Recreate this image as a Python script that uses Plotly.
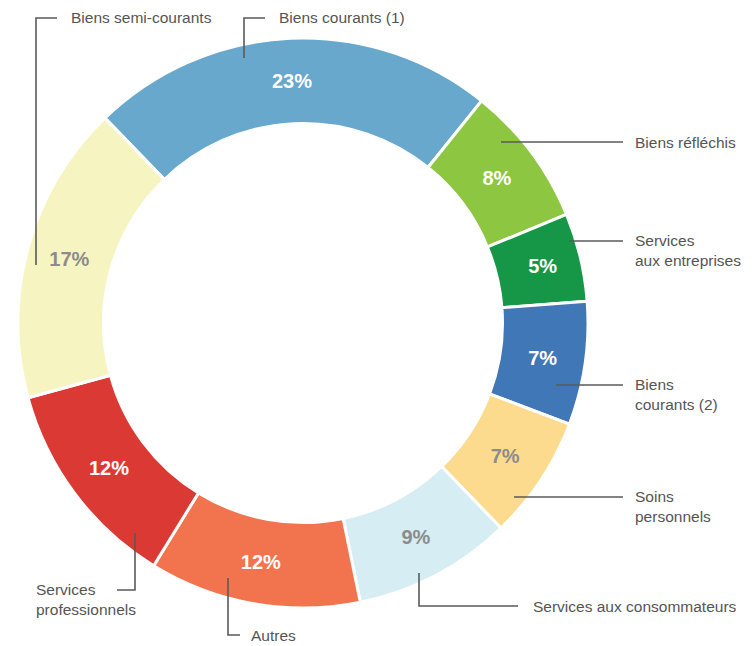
import plotly.graph_objects as go

# ---- data ----
categories = [
    "Biens courants (1)", "Biens réfléchis", "Services aux entreprises",
    "Biens courants (2)", "Soins personnels", "Services aux consommateurs",
    "Autres", "Services professionnels", "Biens semi-courants",
]
shares = [23, 8, 5, 7, 7, 9, 12, 12, 17]
percent_labels = ["23%", "8%", "5%", "7%", "7%", "9%", "12%", "12%", "17%"]
label_texts = [
    "Biens courants (1)", "Biens réfléchis", "Services<br>aux entreprises",
    "Biens<br>courants (2)", "Soins<br>personnels", "Services aux consommateurs",
    "Autres", "Services<br>professionnels", "Biens semi-courants",
]

# ---- styles ----
slice_colors = ["#67a8cc", "#8dc641", "#169647", "#4077b7", "#fcdb8e",
                "#d5edf3", "#f2744f", "#db3934", "#f6f5c1"]
pct_colors = ["white", "white", "white", "white", "#8c8c8c",
              "#8c8c8c", "white", "white", "#8c8c8c"]
LINE_COLOR = "#5a5a5a"
TEXT_COLOR = "#555555"

W, H = 756, 646
CX, CY, R = 303, 323, 285    # in page pixels


def px(x):
    return x / W


def py(y):
    return 1 - y / H


fig = go.Figure(go.Pie(
    labels=categories,
    values=shares,
    text=percent_labels,
    textinfo="text",
    textposition="inside",
    insidetextorientation="horizontal",
    textfont=dict(family="Liberation Sans, Arial", size=20, color=pct_colors,
                  weight="bold"),
    hole=0.70,
    sort=False,
    direction="clockwise",
    rotation=-44,
    marker=dict(colors=slice_colors, line=dict(color="white", width=3)),
    domain=dict(x=[px(CX - R), px(CX + R)], y=[py(CY + R), py(CY - R)]),
    showlegend=False,
    hoverinfo="label+percent",
))

# leader lines: polyline points in page pixels, and label anchor (x, y)
leaders = [
    ([(244, 58), (244, 18), (265, 18)], (277, 18)),
    ([(501, 142), (623, 142)], (633, 142)),
    ([(569, 241), (623, 241)], (633, 250)),
    ([(556, 385), (623, 385)], (633, 394)),
    ([(514, 497), (623, 497)], (633, 506)),
    ([(419, 573), (419, 606), (518, 606)], (531, 606)),
    ([(228, 578), (228, 635), (240, 635)], (249, 635)),
    ([(135, 533), (135, 590), (117, 590)], (34, 599)),
    ([(36, 265), (36, 18), (57, 18)], (69, 18)),
]

shapes = []
annotations = []
for (pts, (lx, ly)), txt in zip(leaders, label_texts):
    path = "M " + " L ".join(f"{px(x)},{py(y)}" for x, y in pts)
    shapes.append(dict(type="path", path=path, xref="paper", yref="paper",
                       line=dict(color=LINE_COLOR, width=1.6)))
    annotations.append(dict(x=px(lx), y=py(ly), xref="paper", yref="paper",
                            text=txt, showarrow=False, xanchor="left",
                            yanchor="middle", align="left",
                            font=dict(family="Liberation Sans, Arial",
                                      size=15.5, color=TEXT_COLOR)))

fig.update_layout(
    width=W, height=H,
    margin=dict(l=0, r=0, t=0, b=0),
    paper_bgcolor="white",
    plot_bgcolor="white",
    shapes=shapes,
    annotations=annotations,
)

fig.write_html(
    "out.html",
    config={"displayModeBar": False},
    post_script="document.body.style.margin='0';"
                "document.body.style.overflow='hidden';",
)
